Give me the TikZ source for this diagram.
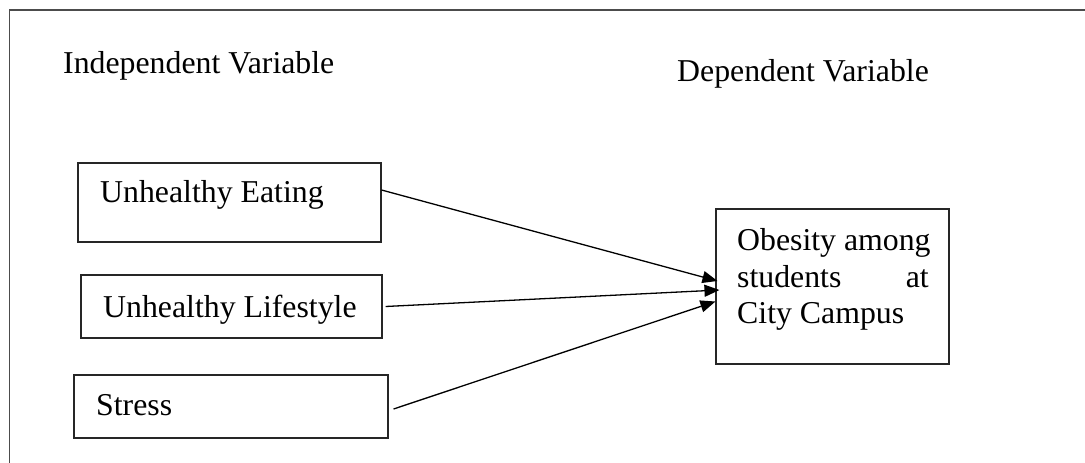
\documentclass[tikz,border=0pt]{standalone}
\usepackage{fontspec}
\setmainfont{Liberation Serif}
\usetikzlibrary{arrows.meta}
\begin{document}
\begin{tikzpicture}[x=1pt,y=-1pt,
  frameline/.style={draw=black!70, line width=1.3pt},
  boxsty/.style={draw=black!85, line width=1.1pt, inner sep=0pt},
  lbl/.style={anchor=base west, inner sep=0pt, font=\fontsize{31.8}{36.5}\selectfont},
  lble/.style={anchor=base east, inner sep=0pt, font=\fontsize{31.8}{36.5}\selectfont},
  conn/.style={draw=black, line width=1.3pt, -{Triangle[length=15pt,width=12pt]}}]
\useasboundingbox (0,0) rectangle (1085,463);
% outer frame (top and left edges visible)
\coordinate (ftr) at (1085,10);
\coordinate (ftl) at (9.5,10);
\coordinate (fbl) at (9.5,463);
\draw[frameline] (ftr) -- (ftl) -- (fbl);
% headings
\node[lbl] (indep) at (63,73) {Independent Variable};
\node[lbl] (dep) at (677,81) {Dependent Variable};
% boxes
\node[boxsty, minimum width=303pt, minimum height=79pt] (ue) at (229.5,202.5) {};
\node[boxsty, minimum width=301pt, minimum height=63pt] (ul) at (231.5,306.5) {};
\node[boxsty, minimum width=314pt, minimum height=63pt] (st) at (231,406.5) {};
\node[boxsty, minimum width=233pt, minimum height=155pt] (ob) at (832.5,286.5) {};
% box texts
\node[lbl] (uet) at (100,202) {Unhealthy Eating};
\node[lbl] (ult) at (103,317) {Unhealthy Lifestyle};
\node[lbl] (stt) at (96,415) {Stress};
\node[lbl] (ob1) at (737,250) {Obesity among};
\node[lbl] (ob2) at (737,287) {students};
\node[lble] (ob2b) at (929,287) {at};
\node[lbl] (ob3) at (737,323) {City Campus};
% connectors
\draw[conn] ([yshift=12.5pt]ue.east) -- ([xshift=2pt,yshift=5.5pt]ob.west);
\draw[conn] ([xshift=3pt]ul.east) -- ([xshift=4pt,yshift=-3.5pt]ob.west);
\draw[conn] ([xshift=5pt,yshift=-2.5pt]st.east) -- ([xshift=0pt,yshift=-15pt]ob.west);
\end{tikzpicture}
\end{document}
